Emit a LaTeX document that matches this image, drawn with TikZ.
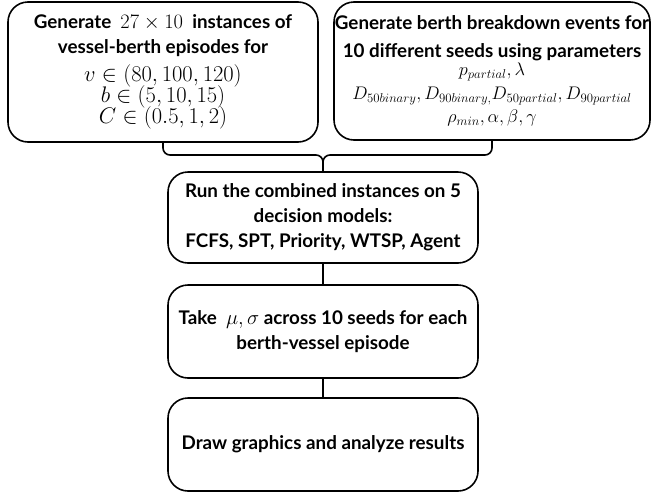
\documentclass[tikz,border=0pt]{standalone}
\usepackage{graphicx}
\usepackage{fix-cm}
\usepackage{fontspec}
\setmainfont{Lato}
\usetikzlibrary{positioning}

\newcommand{\lgmath}[1]{{\fontsize{20.5}{20}\selectfont$#1$}}
\newcommand{\scmath}[2]{\scalebox{#1}{\fontsize{20.5}{20}\selectfont$#2$}}
\newcommand{\mdmath}[1]{\scalebox{0.97}{\fontsize{18.8}{20}\selectfont$#1$}}
\newcommand{\tightlines}{\setlength{\lineskiplimit}{-50pt}\setlength{\lineskip}{0pt}}

\tikzstyle{stepbox} = [draw, line width=1.6pt, rounded corners=20pt, align=center, font=\fontsize{18.8}{25}\selectfont\bfseries\tightlines, inner sep=0pt]
\tikzstyle{line} = [draw, line width=1.6pt, rounded corners=7pt]

\begin{document}
\begin{tikzpicture}[x=1pt,y=1pt]
	\useasboundingbox (0,0) rectangle (652,-493);
	\node (gen) at (163,-72) [stepbox, minimum width=310pt, minimum height=140pt] {Generate \ \lgmath{27\times10}\ \ instances of\\vessel-berth episodes for\\[3pt]\scmath{1.1}{v\in(80,100,120)}\\[-4pt]\scmath{1.1}{b\in(5,10,15)}\\[-4pt]\scmath{1.1}{C\in(0.5,1,2)}};
	\node (brk) at (492,-71) [stepbox, minimum width=316pt, minimum height=138pt] {Generate berth breakdown events for\\[3pt]10 different seeds using parameters\\[-7pt]\mdmath{p_{partial},\lambda}\\[-1pt]\mdmath{D_{50binary},D_{90binary,}D_{50partial},D_{90partial}}\\[-2pt]\mdmath{\rho_{min},\alpha,\beta,\gamma}};
	\node (run) at (323,-217.5) [stepbox, minimum width=310pt, minimum height=91pt] {Run the combined instances on 5\\decision models:\\FCFS, SPT, Priority, WTSP, Agent};
	\node (stat) at (323,-331.5) [stepbox, minimum width=310pt, minimum height=93pt] {Take \ \lgmath{\mu,\sigma} across 10 seeds for each\\berth-vessel episode};
	\node (plot) at (323,-444.5) [stepbox, minimum width=310pt, minimum height=93pt] {Draw graphics and analyze results};
	\coordinate (join) at (323,-155);
	\path[line] (gen.south) |- (join) -- (run.north);
	\path[line] (brk.south) |- (join) -- (run.north);
	\path[line] (run) -- (stat);
	\path[line] (stat) -- (plot);
\end{tikzpicture}
\end{document}
